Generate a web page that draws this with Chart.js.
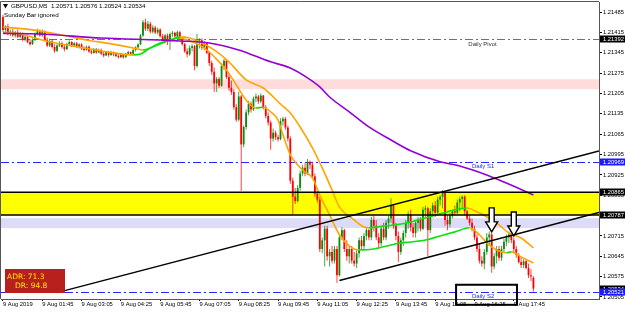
<!DOCTYPE html>
<html>
<head>
<meta charset="utf-8">
<script src="https://cdn.jsdelivr.net/npm/chart.js@4.4.1/dist/chart.umd.min.js"></script>
<style>
  html, body { margin: 0; padding: 0; background: #fff; }
  #wrap { width: 625px; height: 314px; }
</style>
</head>
<body>
<div id="wrap"><canvas id="chart" width="625" height="314"></canvas></div>
<script>
// GBPUSD M5, 9 Aug 2019, one value per bar (bar 0 = 00:25)
var opens = [
  1.21468,1.21424,1.21436,1.21410,1.21418,1.21405,1.21415,1.21400,1.21410,1.21390,
  1.21400,1.21382,1.21375,1.21390,1.21410,1.21420,1.21405,1.21418,1.21390,1.21370,
  1.21385,1.21365,1.21352,1.21370,1.21378,1.21365,1.21358,1.21375,1.21382,1.21370,
  1.21378,1.21366,1.21374,1.21360,1.21355,1.21366,1.21350,1.21345,1.21358,1.21346,
  1.21355,1.21342,1.21336,1.21348,1.21338,1.21345,1.21340,1.21334,1.21330,1.21340,
  1.21330,1.21342,1.21348,1.21342,1.21355,1.21364,1.21374,1.21405,1.21450,1.21428,
  1.21445,1.21418,1.21432,1.21415,1.21425,1.21402,1.21392,1.21405,1.21385,1.21410,
  1.21414,1.21402,1.21416,1.21396,1.21375,1.21350,1.21340,1.21362,1.21368,1.21300,
  1.21380,1.21388,1.21362,1.21378,1.21345,1.21310,1.21280,1.21240,1.21255,1.21232,
  1.21300,1.21318,1.21262,1.21225,1.21210,1.21158,1.21115,1.21195,1.21030,1.21090,
  1.21140,1.21170,1.21150,1.21188,1.21195,1.21178,1.21198,1.21158,1.21128,1.21105,
  1.21050,1.21070,1.21055,1.21048,1.21110,1.21118,1.21088,1.21050,1.20905,1.20850,
  1.20835,1.20880,1.20930,1.20950,1.20930,1.20970,1.20960,1.20920,1.20860,1.20840,
  1.20670,1.20700,1.20740,1.20645,1.20660,1.20630,1.20670,1.20580,1.20710,1.20735,
  1.20670,1.20645,1.20670,1.20630,1.20620,1.20655,1.20700,1.20680,1.20715,1.20735,
  1.20710,1.20770,1.20750,1.20710,1.20690,1.20740,1.20710,1.20760,1.20775,1.20820,
  1.20750,1.20715,1.20660,1.20700,1.20725,1.20760,1.20790,1.20745,1.20725,1.20760,
  1.20770,1.20740,1.20805,1.20810,1.20735,1.20800,1.20820,1.20795,1.20840,1.20850,
  1.20865,1.20770,1.20755,1.20785,1.20800,1.20795,1.20830,1.20842,1.20850,1.20800,
  1.20775,1.20760,1.20738,1.20710,1.20670,1.20630,1.20620,1.20660,1.20710,1.20720,
  1.20610,1.20645,1.20670,1.20640,1.20670,1.20695,1.20710,1.20720,1.20700,1.20670,
  1.20650,1.20625,1.20615,1.20628,1.20605,1.20580,1.20571
];
var highs = [
  1.21476,1.21440,1.21445,1.21425,1.21428,1.21420,1.21425,1.21418,1.21415,1.21405,
  1.21408,1.21392,1.21395,1.21415,1.21428,1.21425,1.21425,1.21422,1.21398,1.21390,
  1.21392,1.21375,1.21375,1.21385,1.21384,1.21372,1.21380,1.21388,1.21386,1.21382,
  1.21382,1.21378,1.21378,1.21368,1.21370,1.21370,1.21358,1.21362,1.21362,1.21360,
  1.21360,1.21350,1.21352,1.21352,1.21352,1.21350,1.21348,1.21340,1.21345,1.21342,
  1.21345,1.21352,1.21350,1.21358,1.21368,1.21378,1.21410,1.21458,1.21462,1.21455,
  1.21452,1.21440,1.21438,1.21432,1.21430,1.21410,1.21410,1.21412,1.21415,1.21420,
  1.21418,1.21422,1.21420,1.21400,1.21380,1.21360,1.21370,1.21375,1.21372,1.21410,
  1.21395,1.21395,1.21385,1.21382,1.21350,1.21318,1.21295,1.21262,1.21262,1.21310,
  1.21325,1.21322,1.21270,1.21250,1.21220,1.21168,1.21212,1.21200,1.21095,1.21150,
  1.21180,1.21178,1.21195,1.21205,1.21200,1.21205,1.21200,1.21165,1.21140,1.21112,
  1.21085,1.21078,1.21062,1.21120,1.21125,1.21124,1.21095,1.21058,1.20915,1.20880,
  1.20890,1.20940,1.20960,1.20965,1.20980,1.20975,1.20970,1.20930,1.20870,1.20850,
  1.20710,1.20750,1.20750,1.20670,1.20680,1.20680,1.20680,1.20720,1.20745,1.20740,
  1.20700,1.20680,1.20680,1.20660,1.20670,1.20710,1.20715,1.20725,1.20745,1.20740,
  1.20780,1.20785,1.20770,1.20725,1.20750,1.20760,1.20770,1.20785,1.20845,1.20825,
  1.20760,1.20730,1.20710,1.20735,1.20770,1.20800,1.20805,1.20760,1.20770,1.20780,
  1.20780,1.20815,1.20820,1.20815,1.20810,1.20830,1.20835,1.20850,1.20855,1.20873,
  1.20870,1.20785,1.20795,1.20805,1.20820,1.20840,1.20850,1.20855,1.20855,1.20805,
  1.20785,1.20775,1.20750,1.20720,1.20690,1.20645,1.20670,1.20725,1.20730,1.20725,
  1.20655,1.20680,1.20680,1.20680,1.20705,1.20720,1.20730,1.20732,1.20710,1.20680,
  1.20655,1.20640,1.20635,1.20635,1.20620,1.20600,1.20576
];
var lows = [
  1.21418,1.21415,1.21405,1.21402,1.21400,1.21398,1.21395,1.21395,1.21385,1.21385,
  1.21378,1.21370,1.21372,1.21385,1.21405,1.21400,1.21400,1.21385,1.21365,1.21365,
  1.21360,1.21345,1.21348,1.21365,1.21360,1.21350,1.21355,1.21370,1.21365,1.21366,
  1.21362,1.21360,1.21355,1.21350,1.21352,1.21345,1.21340,1.21342,1.21342,1.21344,
  1.21338,1.21330,1.21334,1.21332,1.21335,1.21333,1.21330,1.21326,1.21327,1.21325,
  1.21328,1.21338,1.21336,1.21340,1.21350,1.21360,1.21372,1.21400,1.21420,1.21420,
  1.21412,1.21412,1.21410,1.21408,1.21398,1.21385,1.21380,1.21372,1.21355,1.21400,
  1.21398,1.21398,1.21392,1.21370,1.21345,1.21330,1.21335,1.21350,1.21285,1.21295,
  1.21360,1.21355,1.21355,1.21340,1.21300,1.21270,1.21210,1.21210,1.21225,1.21228,
  1.21285,1.21255,1.21215,1.21200,1.21150,1.21108,1.21110,1.20870,1.21020,1.21080,
  1.21130,1.21140,1.21145,1.21175,1.21170,1.21172,1.21150,1.21120,1.21095,1.21012,
  1.21040,1.21045,1.21040,1.21044,1.21095,1.21080,1.21040,1.20895,1.20790,1.20825,
  1.20830,1.20870,1.20920,1.20920,1.20925,1.20945,1.20910,1.20850,1.20830,1.20660,
  1.20655,1.20610,1.20630,1.20610,1.20620,1.20620,1.20554,1.20575,1.20700,1.20660,
  1.20630,1.20620,1.20620,1.20610,1.20605,1.20640,1.20670,1.20665,1.20700,1.20700,
  1.20700,1.20730,1.20700,1.20670,1.20680,1.20700,1.20700,1.20740,1.20760,1.20740,
  1.20700,1.20625,1.20650,1.20680,1.20710,1.20740,1.20730,1.20710,1.20710,1.20730,
  1.20730,1.20735,1.20780,1.20645,1.20725,1.20785,1.20780,1.20785,1.20820,1.20810,
  1.20750,1.20735,1.20745,1.20775,1.20785,1.20790,1.20800,1.20810,1.20785,1.20770,
  1.20750,1.20730,1.20700,1.20660,1.20620,1.20610,1.20600,1.20650,1.20680,1.20588,
  1.20600,1.20620,1.20630,1.20630,1.20655,1.20680,1.20690,1.20690,1.20660,1.20640,
  1.20620,1.20605,1.20605,1.20600,1.20570,1.20560,1.20524
];
var closes = [
  1.21424,1.21436,1.21410,1.21418,1.21405,1.21415,1.21400,1.21410,1.21390,1.21400,
  1.21382,1.21375,1.21390,1.21410,1.21420,1.21405,1.21418,1.21390,1.21370,1.21385,
  1.21365,1.21352,1.21370,1.21378,1.21365,1.21358,1.21375,1.21382,1.21370,1.21378,
  1.21366,1.21374,1.21360,1.21355,1.21366,1.21350,1.21345,1.21358,1.21346,1.21355,
  1.21342,1.21336,1.21348,1.21338,1.21345,1.21340,1.21334,1.21330,1.21340,1.21330,
  1.21342,1.21348,1.21342,1.21355,1.21364,1.21374,1.21405,1.21450,1.21428,1.21445,
  1.21418,1.21432,1.21415,1.21425,1.21402,1.21392,1.21405,1.21385,1.21410,1.21414,
  1.21402,1.21416,1.21396,1.21375,1.21350,1.21340,1.21362,1.21368,1.21300,1.21380,
  1.21388,1.21362,1.21378,1.21345,1.21310,1.21280,1.21240,1.21255,1.21232,1.21300,
  1.21318,1.21262,1.21225,1.21210,1.21158,1.21115,1.21195,1.21030,1.21090,1.21140,
  1.21170,1.21150,1.21188,1.21195,1.21178,1.21198,1.21158,1.21128,1.21105,1.21050,
  1.21070,1.21055,1.21048,1.21110,1.21118,1.21088,1.21050,1.20905,1.20850,1.20835,
  1.20880,1.20930,1.20950,1.20930,1.20970,1.20960,1.20920,1.20860,1.20840,1.20670,
  1.20700,1.20740,1.20645,1.20660,1.20630,1.20670,1.20580,1.20710,1.20735,1.20670,
  1.20645,1.20670,1.20630,1.20620,1.20655,1.20700,1.20680,1.20715,1.20735,1.20710,
  1.20770,1.20750,1.20710,1.20690,1.20740,1.20710,1.20760,1.20775,1.20820,1.20750,
  1.20715,1.20660,1.20700,1.20725,1.20760,1.20790,1.20745,1.20725,1.20760,1.20770,
  1.20740,1.20805,1.20810,1.20735,1.20800,1.20820,1.20795,1.20840,1.20850,1.20865,
  1.20770,1.20755,1.20785,1.20800,1.20795,1.20830,1.20842,1.20850,1.20800,1.20775,
  1.20760,1.20738,1.20710,1.20670,1.20630,1.20620,1.20660,1.20710,1.20720,1.20610,
  1.20645,1.20670,1.20640,1.20670,1.20695,1.20710,1.20720,1.20700,1.20670,1.20650,
  1.20625,1.20615,1.20628,1.20605,1.20580,1.20575,1.20534
];

// time axis: bar index of each label and its text
var tickBars = [0, 16, 32, 48, 64, 80, 96, 112, 128, 144, 160, 176, 192, 208];
var tickLabels = ['9 Aug 2019', '9 Aug 01:45', '9 Aug 03:05', '9 Aug 04:25', '9 Aug 05:45',
  '9 Aug 07:05', '9 Aug 08:25', '9 Aug 09:45', '9 Aug 11:05', '9 Aug 12:25',
  '9 Aug 13:45', '9 Aug 15:05', '9 Aug 16:25', '9 Aug 17:45'];
var priceTicks = [1.21485, 1.21415, 1.21345, 1.21275, 1.21205, 1.21135, 1.21065, 1.20995,
  1.20925, 1.20855, 1.20785, 1.20715, 1.20645, 1.20575, 1.20505];

// moving averages as [bar, price]
var maLong = [[0,1.21412],[15,1.21410],[40,1.21396],[64,1.21389],[72,1.21386],[84,1.21379],
  [96,1.21355],[109,1.21314],[117,1.21293],[124,1.21259],[129,1.21228],[133,1.21193],
  [141,1.21142],[149,1.21090],[158,1.21045],[166,1.21008],[178,1.20970],[186,1.20956],
  [197,1.20925],[205,1.20897],[216,1.20856]];
var maSlow = [[0,1.21434],[12,1.21424],[26,1.21403],[34,1.21389],[44,1.21376],[53,1.21362],
  [57,1.21355],[62,1.21369],[68,1.21389],[72,1.21400],[76,1.21396],[80,1.21383],[86,1.21355],
  [92,1.21314],[99,1.21252],[106,1.21224],[113,1.21169],[117,1.21138],[121,1.21090],
  [126,1.21018],[130,1.20949],[134,1.20873],[137,1.20815],[143,1.20770],[147,1.20746],
  [149,1.20743],[156,1.20750],[160,1.20753],[166,1.20763],[172,1.20777],[178,1.20791],
  [184,1.20805],[189,1.20811],[193,1.20798],[197,1.20781],[202,1.20753],[206,1.20725],
  [211,1.20708],[216,1.20674]];
var maFast = [[0,1.21417],[7,1.21410],[19,1.21383],[33,1.21362],[45,1.21345],[53,1.21338],
  [56,1.21341],[60,1.21362],[64,1.21379],[68,1.21389],[72,1.21396],[76,1.21386],[80,1.21372],
  [84,1.21348],[88,1.21314],[91,1.21286],[95,1.21235],[99,1.21183],[103,1.21155],[106,1.21158],
  [109,1.21142],[112,1.21114],[114,1.21063],[117,1.20994],[120,1.20959],[123,1.20935],
  [126,1.20915],[129,1.20856],[133,1.20787],[137,1.20719],[141,1.20681],[145,1.20667],
  [151,1.20670],[158,1.20684],[162,1.20691],[166,1.20694],[172,1.20701],[178,1.20715],
  [184,1.20729],[190,1.20743],[194,1.20719],[197,1.20691],[201,1.20667],[205,1.20657],
  [207,1.20660],[211,1.20643],[216,1.20622]];

// levels and drawn objects
var levelNames = ['Daily Pivot', 'Daily S1', 'Daily S2'];
var levelPrices = [1.21392, 1.20969, 1.20521];
var yellowZone = [1.20865, 1.20787];
var blueZone = [1.20776, 1.20742];
var pinkZone = [1.21254, 1.21220];
var trendA = [[22, 1.20520], [176, 1.20860]];
var trendB = [[137, 1.20562], [208, 1.20719]];
var arrowMarks = [[199, 1.20729], [208, 1.20715]];
var noteBox = [[184.5, 1.20547], [209.3, 1.20478]];
var lastBar = [1.20571, 1.20576, 1.20524, 1.20534];
var adrValues = [71.3, 94.8];

var FONT = '"Liberation Sans", Arial, sans-serif';

function barColor(i, alpha) {
  var up = closes[i] >= opens[i];
  return up ? 'rgba(10,138,10,' + alpha + ')' : 'rgba(255,0,0,' + alpha + ')';
}

function toPoints(list) {
  return list.map(function(p) { return {x: p[0], y: p[1]}; });
}

var idx = opens.map(function(v, i) { return i; });

function dashLine(ctx, area, y, color) {
  ctx.save();
  ctx.strokeStyle = color;
  ctx.lineWidth = 1;
  ctx.setLineDash([8, 3, 2, 3]);
  ctx.beginPath();
  ctx.moveTo(area.left, Math.round(y) + 0.5);
  ctx.lineTo(area.right, Math.round(y) + 0.5);
  ctx.stroke();
  ctx.restore();
}

function zone(ctx, area, ys, p1, p2, color) {
  var a = ys.getPixelForValue(p1), b = ys.getPixelForValue(p2);
  ctx.fillStyle = color;
  ctx.fillRect(area.left, Math.min(a, b), area.width, Math.abs(b - a));
}

function ray(chart, pts) {
  var xs = chart.scales.x, ys = chart.scales.y, ctx = chart.ctx;
  var slope = (pts[1][1] - pts[0][1]) / (pts[1][0] - pts[0][0]);
  var endY = pts[0][1] + (xs.max - pts[0][0]) * slope;
  ctx.beginPath();
  ctx.moveTo(xs.getPixelForValue(pts[0][0]), ys.getPixelForValue(pts[0][1]));
  ctx.lineTo(xs.getPixelForValue(xs.max), ys.getPixelForValue(endY));
  ctx.stroke();
}

function downArrow(ctx, x, y) {
  ctx.beginPath();
  ctx.moveTo(x, y);
  ctx.lineTo(x - 6, y - 10);
  ctx.lineTo(x - 2.5, y - 10);
  ctx.lineTo(x - 2.5, y - 24);
  ctx.lineTo(x + 2.5, y - 24);
  ctx.lineTo(x + 2.5, y - 10);
  ctx.lineTo(x + 6, y - 10);
  ctx.closePath();
  ctx.fillStyle = '#fff';
  ctx.fill();
  ctx.stroke();
}

function axisBox(ctx, area, ys, price, color) {
  var y = Math.round(ys.getPixelForValue(price));
  ctx.fillStyle = color;
  ctx.fillRect(area.right + 1, y - 3.5, 625 - area.right - 1, 7);
  ctx.fillStyle = '#fff';
  ctx.font = '5.8px ' + FONT;
  ctx.textBaseline = 'middle';
  ctx.textAlign = 'left';
  ctx.fillText(price.toFixed(5), area.right + 4, y + 0.5);
}

var mtObjects = {
  id: 'mtObjects',
  beforeDatasetsDraw: function(chart) {
    var ctx = chart.ctx, area = chart.chartArea, ys = chart.scales.y;
    ctx.save();
    ctx.beginPath();
    ctx.rect(area.left, area.top, area.width, area.height);
    ctx.clip();
    zone(ctx, area, ys, pinkZone[0], pinkZone[1], '#ffdcdc');
    zone(ctx, area, ys, blueZone[0], blueZone[1], '#dcdcf8');
    zone(ctx, area, ys, yellowZone[0], yellowZone[1], '#ffff00');
    dashLine(ctx, area, ys.getPixelForValue(levelPrices[0]), '#707070');
    dashLine(ctx, area, ys.getPixelForValue(levelPrices[1]), '#2626ff');
    dashLine(ctx, area, ys.getPixelForValue(levelPrices[2]), '#2626ff');
    ctx.restore();
  },
  afterDatasetsDraw: function(chart) {
    var ctx = chart.ctx, area = chart.chartArea, xs = chart.scales.x, ys = chart.scales.y;
    ctx.save();
    ctx.beginPath();
    ctx.rect(area.left, area.top, area.width, area.height);
    ctx.clip();

    // zone edges are solid black lines
    ctx.strokeStyle = '#000';
    ctx.lineWidth = 1.5;
    yellowZone.forEach(function(p) {
      var y = ys.getPixelForValue(p);
      ctx.beginPath();
      ctx.moveTo(area.left, y);
      ctx.lineTo(area.right, y);
      ctx.stroke();
    });

    // channel trend lines
    ctx.lineWidth = 1.5;
    ray(chart, trendA);
    ray(chart, trendB);

    // level captions
    ctx.font = '6px ' + FONT;
    ctx.textBaseline = 'top';
    ctx.textAlign = 'left';
    ctx.fillStyle = '#303030';
    ctx.fillText(levelNames[0], xs.getPixelForValue(189.5), ys.getPixelForValue(levelPrices[0]) + 2);
    ctx.fillStyle = '#2626ff';
    ctx.fillText(levelNames[1], xs.getPixelForValue(191), ys.getPixelForValue(levelPrices[1]) + 1);
    ctx.fillText(levelNames[2], xs.getPixelForValue(191), ys.getPixelForValue(levelPrices[2]) + 1);

    // arrows
    ctx.strokeStyle = '#000';
    ctx.lineWidth = 1.4;
    arrowMarks.forEach(function(a) {
      downArrow(ctx, xs.getPixelForValue(a[0]), ys.getPixelForValue(a[1]));
    });
    ctx.restore();

    // box round the S2 caption (spills over the time axis)
    ctx.save();
    ctx.strokeStyle = '#000';
    ctx.lineWidth = 2;
    var bx = xs.getPixelForValue(noteBox[0][0]), by = ys.getPixelForValue(noteBox[0][1]);
    ctx.strokeRect(bx, by, xs.getPixelForValue(noteBox[1][0]) - bx, ys.getPixelForValue(noteBox[1][1]) - by);

    // frame
    ctx.strokeStyle = '#555';
    ctx.lineWidth = 1;
    ctx.beginPath();
    ctx.moveTo(area.left - 0.5, area.bottom);
    ctx.lineTo(area.left - 0.5, area.top - 0.5);
    ctx.lineTo(area.right, area.top - 0.5);
    ctx.stroke();

    // header
    ctx.fillStyle = '#000';
    ctx.beginPath();
    ctx.moveTo(3, 4); ctx.lineTo(8, 4); ctx.lineTo(5.5, 8.5);
    ctx.closePath();
    ctx.fill();
    ctx.font = '6.2px ' + FONT;
    ctx.textBaseline = 'middle';
    ctx.textAlign = 'left';
    ctx.fillText('GBPUSD,M5  ' + lastBar.map(function(v) { return v.toFixed(5); }).join(' '), 11, 6.5);
    ctx.fillText('Sunday Bar ignored', 4, 15);

    // ADR panel
    ctx.fillStyle = '#b8201e';
    ctx.fillRect(5, 269, 60, 24);
    ctx.fillStyle = '#ffe600';
    ctx.font = '7.5px "DejaVu Sans", sans-serif';
    ctx.fillText('ADR: ' + adrValues[0].toFixed(1), 7, 277);
    ctx.fillText('DR: ' + adrValues[1].toFixed(1), 15, 286.5);

    // price labels on the axis
    axisBox(ctx, area, ys, levelPrices[0], '#000');
    axisBox(ctx, area, ys, levelPrices[1], '#1a1aff');
    axisBox(ctx, area, ys, yellowZone[0], '#000');
    axisBox(ctx, area, ys, yellowZone[1], '#000');
    axisBox(ctx, area, ys, lastBar[3], '#000');
    axisBox(ctx, area, ys, levelPrices[2], '#1a1aff');
    ctx.restore();
  }
};

function maDataset(points, colored) {
  return {
    type: 'line',
    data: toPoints(points),
    borderColor: colored ? '#ffa500' : '#9400d3',
    borderWidth: 1.6,
    pointRadius: 0,
    cubicInterpolationMode: 'monotone',
    order: 0,
    segment: colored ? {
      borderColor: function(c) { return c.p1.parsed.y > c.p0.parsed.y ? '#10e010' : '#ffa500'; }
    } : undefined
  };
}

new Chart(document.getElementById('chart'), {
  type: 'bar',
  data: {
    datasets: [
      maDataset(maLong, false),
      maDataset(maSlow, true),
      maDataset(maFast, true),
      {
        data: idx.map(function(i) { return {x: i, y: [opens[i], closes[i]]}; }),
        backgroundColor: idx.map(function(i) { return barColor(i, 1); }),
        barThickness: 1.8,
        grouped: false,
        inflateAmount: 0,
        borderWidth: 0,
        order: 1
      },
      {
        data: idx.map(function(i) { return {x: i, y: [lows[i], highs[i]]}; }),
        backgroundColor: idx.map(function(i) { return barColor(i, 0.75); }),
        barThickness: 1,
        grouped: false,
        inflateAmount: 0,
        borderWidth: 0,
        order: 2
      }
    ]
  },
  options: {
    responsive: false,
    animation: false,
    events: [],
    layout: {padding: {top: 2, left: 1, right: 0, bottom: 0}},
    plugins: {legend: {display: false}, tooltip: {enabled: false}},
    scales: {
      x: {
        type: 'linear',
        min: -0.81,
        max: 242.7,
        offset: false,
        grid: {offset: false, drawOnChartArea: false, tickLength: 2, color: '#000'},
        border: {color: '#555'},
        afterBuildTicks: function(s) {
          s.ticks = tickBars.map(function(v) { return {value: v}; });
        },
        afterFit: function(s) {
          s.height = 15;
          s.paddingLeft = 0;
          s.paddingRight = 0;
        },
        ticks: {
          autoSkip: false,
          maxRotation: 0,
          align: 'start',
          padding: 0,
          color: '#000',
          font: {family: 'Liberation Sans', size: 5.8},
          callback: function(v) { return tickLabels[tickBars.indexOf(v)]; }
        }
      },
      y: {
        position: 'right',
        min: 1.20498,
        max: 1.21520,
        beginAtZero: false,
        grid: {drawOnChartArea: false, tickLength: 3, color: '#000'},
        border: {color: '#555'},
        afterBuildTicks: function(s) {
          s.ticks = priceTicks.map(function(v) { return {value: v}; });
        },
        afterFit: function(s) {
          s.width = 26;
          s.paddingTop = 0;
          s.paddingBottom = 0;
        },
        ticks: {
          padding: 1,
          color: '#000',
          font: {family: 'Liberation Sans', size: 5.8},
          callback: function(v) { return v.toFixed(5); }
        }
      }
    }
  },
  plugins: [mtObjects]
});
</script>
</body>
</html>
